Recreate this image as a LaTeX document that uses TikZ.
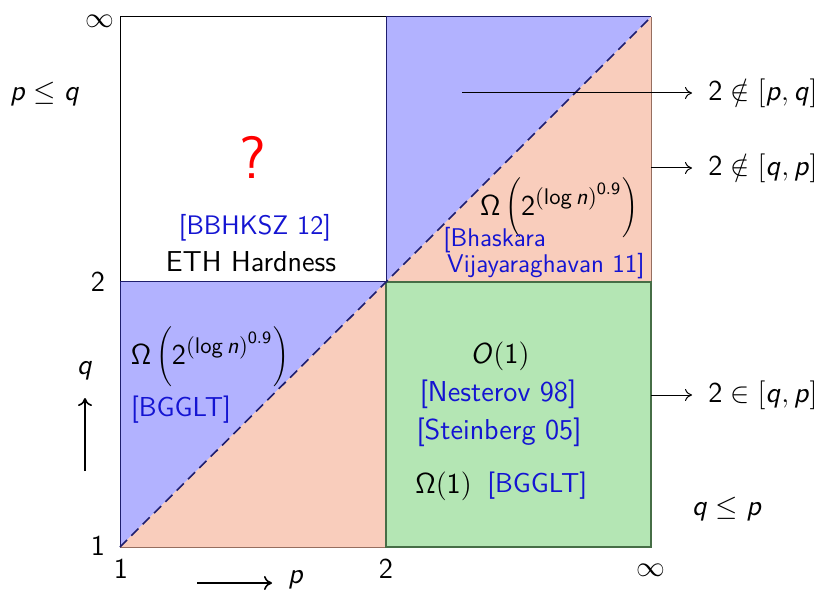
\documentclass[tikz,border=0pt]{standalone}
\usepackage{fix-cm}
\usetikzlibrary{arrows.meta}
\renewcommand\familydefault{\sfdefault}
\DeclareMathSizes{14.4}{14.4}{11.3}{8.6}
\DeclareMathAlphabet{\mathsfit}{OT1}{cmss}{m}{sl}
\DeclareMathAlphabet{\mathsfup}{OT1}{cmss}{m}{n}
\newcommand\vp{\mathsfit{p}}
\newcommand\vq{\mathsfit{q}}
\newcommand\cm{\mathpunct{\mathsfup{,}}}
\newcommand\bigomega{\mathsfup{\Omega}\,\Biggl(\mathsfup{2}^{\mathsfup{(log}\,\mathsfit{n}\mathsfup{)}^{\mathsfup{0.9}}}\Biggr)}
\definecolor{bluef}{RGB}{178,178,255}
\definecolor{salmonf}{RGB}{249,205,188}
\definecolor{greenf}{RGB}{180,230,180}
\definecolor{navy}{RGB}{30,30,110}
\definecolor{brownl}{RGB}{150,110,95}
\definecolor{greenl}{RGB}{70,110,70}
\definecolor{refblue}{RGB}{20,20,210}
\tikzset{
  lbl/.style={font=\fontsize{14.4}{17}\selectfont\sffamily, inner sep=0pt},
  cite/.style={lbl, text=refblue},
  smallcite/.style={cite, font=\fontsize{12.8}{15}\selectfont\sffamily},
  midcite/.style={cite, font=\fontsize{13.7}{16}\selectfont\sffamily},
  arr/.style={line width=0.5pt, -{To[length=3.5pt,width=6pt]}},
  axarr/.style={line width=0.8pt, -{To[length=4pt,width=7pt]}}
}
\begin{document}
\begin{tikzpicture}[x=0.5pt,y=-0.5pt]
\useasboundingbox (0,0) rectangle (822,592);
% fills
\fill[white] (120,17) rectangle (386,282);
\fill[bluef] (386,282) -- (386,17) -- (651,17) -- cycle;
\fill[salmonf] (386,282) -- (651,17) -- (651,282) -- cycle;
\fill[bluef] (120,547) -- (120,282) -- (386,282) -- cycle;
\fill[salmonf] (120,547) -- (386,282) -- (386,547) -- cycle;
\fill[greenf] (386,282) rectangle (651,547);
% borders
\draw[line width=0.5pt, black] (386,282) -- (120,282) -- (120,17) -- (386,17);
\draw[line width=0.5pt, navy] (386,282) -- (386,17) -- (651,17);
\draw[line width=0.5pt, brownl] (651,17) -- (651,282) -- (386,282);
\draw[line width=0.5pt, navy] (120,547) -- (120,282) -- (386,282);
\draw[line width=0.5pt, brownl] (120,547) -- (386,547);
\draw[line width=0.6pt, greenl] (386,282) rectangle (651,547);
% diagonals
\draw[navy, line width=0.8pt, dash pattern=on 5pt off 3pt] (120,547) -- (386,282) -- (651,17);
% axis tick labels
\node[lbl] (yinf) at (100,21) {$\infty$};
\node[lbl] (y2) at (98,282) {2};
\node[lbl] (y1) at (98,546) {1};
\node[lbl] (x1) at (121,569) {1};
\node[lbl] (x2) at (386,569) {2};
\node[lbl] (xinf) at (651,570) {$\infty$};
% axis arrows
\node[lbl] (qlab) at (85,371) {$\vq$};
\coordinate (qstart) at (85,471);
\coordinate (qend) at (85,398);
\draw[axarr] (qstart) -- (qend);
\node[lbl] (plab) at (296,580) {$\vp$};
\coordinate (pstart) at (197,583);
\coordinate (pend) at (272,583);
\draw[axarr] (pstart) -- (pend);
% region labels
\node[lbl] (pleq) at (45,94) {$\vp \leq \vq$};
\node[lbl] (qleq) at (727,509) {$\vq \leq \vp$};
\node[lbl, font=\fontsize{30}{36}\selectfont\sffamily, text=red] (qm) at (253,157) {?};
\node[smallcite, font=\fontsize{13.4}{16}\selectfont\sffamily] (bbh) at (255,228) {[BBHKSZ 12]};
\node[lbl] (eth) at (251,262) {ETH Hardness};
\node[lbl] (om1) at (210,357) {$\bigomega$};
\node[midcite] (bgglt1) at (181,410) {[BGGLT]};
\node[lbl] (om2) at (559,208) {$\bigomega$};
\node[smallcite, anchor=west] (bh1) at (443,240) {[Bhaskara};
\node[smallcite, anchor=east] (bh2) at (645,266) {Vijayaraghavan 11]};
\node[lbl] (o1) at (500,356) {$\mathsfit{O}\mathsfup{(1)}$};
\node[cite] (nest) at (498,394) {[Nesterov 98]};
\node[cite] (stein) at (499,432) {[Steinberg 05]};
\node[lbl, anchor=west] (om3) at (415,486) {$\mathsfup{\Omega(1)}$};
\node[midcite, anchor=west] (bgglt2) at (487,486) {[BGGLT]};
% right labels and arrows
\node[lbl, anchor=west] (r1) at (708,93) {$\mathsfup{2} \notin \mathsfup{[}\vp\cm\vq\mathsfup{]}$};
\node[lbl, anchor=west] (r2) at (708,168) {$\mathsfup{2} \notin \mathsfup{[}\vq\cm\vp\mathsfup{]}$};
\node[lbl, anchor=west] (r3) at (708,395) {$\mathsfup{2} \in \mathsfup{[}\vq\cm\vp\mathsfup{]}$};
\coordinate (a1) at (462,93);
\coordinate (a2) at (651,168);
\coordinate (a3) at (651,395);
\draw[arr] (a1) -- ([xshift=-8pt]r1.west);
\draw[arr] (a2) -- ([xshift=-8pt]r2.west);
\draw[arr] (a3) -- ([xshift=-8pt]r3.west);
\end{tikzpicture}
\end{document}
